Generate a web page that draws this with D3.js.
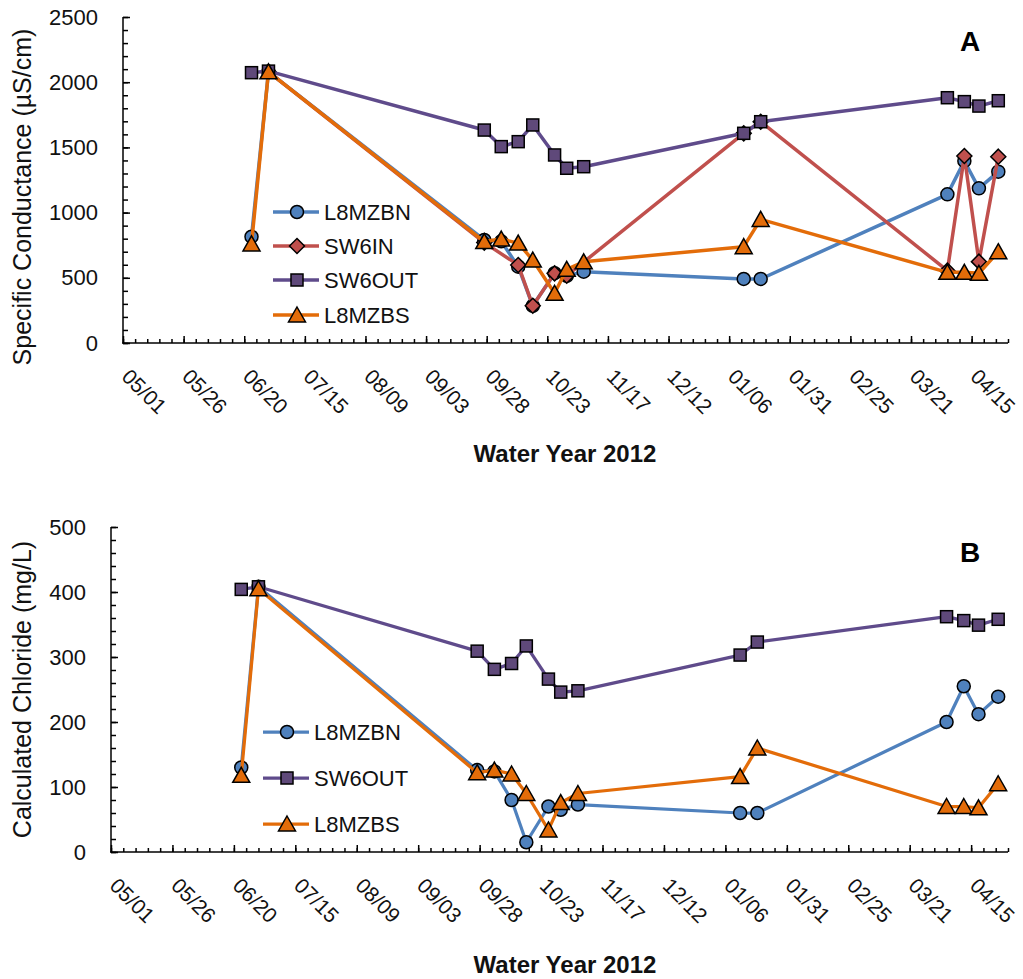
<!DOCTYPE html>
<html><head><meta charset="utf-8">
<script src="https://cdn.jsdelivr.net/npm/d3@7"></script>
<style>
body{margin:0;background:#fff;}
svg{display:block;font-family:"Liberation Sans",Arial,sans-serif;}
</style></head>
<body>
<svg id="chart" width="1023" height="979"></svg>
<script>
// ---------- DATA ----------
const dates = ["2011-06-23","2011-06-30","2011-09-27","2011-10-04","2011-10-11","2011-10-17","2011-10-26","2011-10-31","2011-11-07","2012-01-12","2012-01-19","2012-04-05","2012-04-12","2012-04-18","2012-04-26"];

// Panel A: Specific Conductance (µS/cm); null = no sample
const scL8MZBN = [815, 2080, 790, 780, 585, 285, 535, 515, 547, 491, 491, 1140, 1396, 1186, 1314];
const scSW6IN  = [null, 2080, 770, null, 598, 286, 534, 516, null, 1608, 1697, 555, 1434, 624, 1429];
const scSW6OUT = [2073, 2085, 1633, 1506, 1544, 1672, 1442, 1340, 1352, 1608, 1697, 1881, 1851, 1817, 1858];
const scL8MZBS = [760, 2080, 778, 797, 766, 636, 381, 565, 623, 739, 948, 542, 542, 534, 700];

// Panel B: Calculated Chloride (mg/L)
const clL8MZBN = [130, 408, 126, 124, 80, 15, 70, 65, 73, 60, 60, 200, 255, 212, 239];
const clSW6OUT = [404, 408, 309, 281, 290, 317, 266, 246, 248, 303, 323, 362, 356, 349, 358];
const clL8MZBS = [118, 405, 122, 126, 120, 90, 34, 76, 90, 116, 160, 70, 70, 68, 105];

const xStart = "2011-05-01", xEnd = "2012-04-30";
const xTickLabels = ["05/01","05/26","06/20","07/15","08/09","09/03","09/28","10/23","11/17","12/12","01/06","01/31","02/25","03/21","04/15"];
const yTicksA = [0, 500, 1000, 1500, 2000, 2500];
const yTicksB = [0, 100, 200, 300, 400, 500];

// ---------- STYLE ----------
const styles = {
  L8MZBN: {line:"#4F81BD", fill:"#4F81BD", shape:"circle"},
  SW6IN:  {line:"#C0504D", fill:"#C0504D", shape:"diamond"},
  SW6OUT: {line:"#5F4B8B", fill:"#5F497A", shape:"square"},
  L8MZBS: {line:"#E36C09", fill:"#E36C09", shape:"triangle"}
};

const parse = d3.utcParse("%Y-%m-%d");
const svg = d3.select("#chart");

function drawMarker(g, shape, cx, cy, fill) {
  if (shape === "circle") {
    g.append("circle").attr("cx", cx).attr("cy", cy).attr("r", 6.5)
      .attr("fill", fill).attr("stroke", "#000").attr("stroke-width", 1.5);
  } else if (shape === "square") {
    g.append("rect").attr("x", cx - 6).attr("y", cy - 6).attr("width", 12).attr("height", 12)
      .attr("fill", fill).attr("stroke", "#000").attr("stroke-width", 1.5);
  } else if (shape === "diamond") {
    g.append("path").attr("d", `M${cx},${cy-7.5}L${cx+7.5},${cy}L${cx},${cy+7.5}L${cx-7.5},${cy}Z`)
      .attr("fill", fill).attr("stroke", "#000").attr("stroke-width", 1.5);
  } else {
    g.append("path").attr("d", `M${cx},${cy-8}L${cx+8.5},${cy+7}L${cx-8.5},${cy+7}Z`)
      .attr("fill", fill).attr("stroke", "#000").attr("stroke-width", 1.5);
  }
}

function panel(cfg) {
  const x = d3.scaleUtc().domain([parse(xStart), parse(xEnd)]).range([cfg.x0, cfg.x1]);
  const y = d3.scaleLinear().domain([0, cfg.ymax]).range([cfg.yb, cfg.yt]);
  const g = svg.append("g");

  // y axis minor / major ticks
  const yMinor = d3.range(0, cfg.ymax + 1e-9, cfg.yminor);
  g.append("g").attr("transform", `translate(${cfg.x0},0)`)
    .call(d3.axisLeft(y).tickValues(yMinor).tickSize(-5).tickFormat(""))
    .call(a => a.select(".domain").remove())
    .call(a => a.selectAll("line").attr("stroke", "#000").attr("stroke-width", 1.5));
  const ya = g.append("g").attr("transform", `translate(${cfg.x0},0)`)
    .call(d3.axisLeft(y).tickValues(cfg.yticks).tickSize(-7).tickPadding(25).tickFormat(d3.format("d")));
  ya.select(".domain").remove();
  ya.selectAll("line").attr("stroke", "#000").attr("stroke-width", 1.5);
  ya.selectAll("text").attr("font-size", 22).attr("fill", "#111").attr("font-family", "Liberation Sans, Arial, sans-serif");

  // x axis
  const t0 = parse(xStart);
  const minor = d3.utcDay.every(1).range(t0, d3.utcDay.offset(parse(xEnd), 1)).filter((d, i) => i % 5 === 0);
  const major = xTickLabels.map((s, i) => d3.utcDay.offset(t0, i * 25));
  g.append("g").attr("transform", `translate(0,${cfg.yb})`)
    .call(d3.axisBottom(x).tickValues(minor).tickSize(-4).tickFormat(""))
    .call(a => a.select(".domain").remove())
    .call(a => a.selectAll("line").attr("stroke", "#000").attr("stroke-width", 1.5));
  const xa = g.append("g").attr("transform", `translate(0,${cfg.yb})`)
    .call(d3.axisBottom(x).tickValues(major).tickSize(-7).tickFormat((d, i) => xTickLabels[i]));
  xa.select(".domain").remove();
  xa.selectAll("line").attr("stroke", "#000").attr("stroke-width", 1.5);
  xa.selectAll("text")
    .attr("font-size", 21).attr("fill", "#111")
    .attr("text-anchor", "start").attr("dy", null).attr("y", null)
    .attr("transform", "translate(-3,35) rotate(45)");

  // axis lines
  g.append("line").attr("x1", cfg.x0).attr("x2", cfg.x0).attr("y1", cfg.yt).attr("y2", cfg.yb + 0.75)
    .attr("stroke", "#000").attr("stroke-width", 1.5);
  g.append("line").attr("x1", cfg.x0 - 0.75).attr("x2", cfg.x1).attr("y1", cfg.yb).attr("y2", cfg.yb)
    .attr("stroke", "#000").attr("stroke-width", 1.5);

  // series
  cfg.series.forEach(s => {
    const st = styles[s.name];
    const pts = dates.map((d, i) => ({d: parse(d), v: s.values[i]})).filter(p => p.v !== null);
    const line = d3.line().x(p => x(p.d)).y(p => y(p.v));
    g.append("path").attr("d", line(pts)).attr("fill", "none")
      .attr("stroke", st.line).attr("stroke-width", cfg.lw).attr("stroke-linejoin", "round");
    const mg = g.append("g");
    pts.forEach(p => drawMarker(mg, st.shape, x(p.d), y(p.v), st.fill));
  });

  // legend
  cfg.series.forEach((s, i) => {
    const st = styles[s.name];
    const ly = cfg.legY[i];
    g.append("line").attr("x1", cfg.legX).attr("x2", cfg.legX + 46).attr("y1", ly).attr("y2", ly)
      .attr("stroke", st.line).attr("stroke-width", cfg.lw);
    drawMarker(g, st.shape, cfg.legX + 24, ly, st.fill);
    g.append("text").attr("x", cfg.legX + 51).attr("y", ly).attr("dy", "0.35em")
      .attr("font-size", 22).attr("fill", "#111").text(s.name);
  });

  // titles
  g.append("text").attr("transform", `translate(${cfg.ytX},${(cfg.yt + cfg.yb) / 2 + cfg.ytOff}) rotate(-90)`)
    .attr("text-anchor", "middle").attr("font-size", 25).attr("fill", "#111").text(cfg.ytitle);
  g.append("text").attr("x", 565).attr("y", cfg.xtY).attr("text-anchor", "middle")
    .attr("font-size", 24).attr("font-weight", "bold").attr("fill", "#111").text("Water Year 2012");
  g.append("text").attr("x", 970).attr("y", cfg.lblY).attr("text-anchor", "middle")
    .attr("font-size", 28).attr("font-weight", "bold").attr("fill", "#000").text(cfg.label);
}

panel({
  x0: 123, x1: 1008, yt: 17, yb: 343, ymax: 2500, yminor: 100, yticks: yTicksA, lw: 3.5,
  series: [{name: "L8MZBN", values: scL8MZBN}, {name: "SW6IN", values: scSW6IN},
           {name: "SW6OUT", values: scSW6OUT}, {name: "L8MZBS", values: scL8MZBS}],
  legX: 273, legY: [212, 246, 280, 315],
  ytitle: "Specific Conductance (µS/cm)", ytX: 31, ytOff: 17,
  xtY: 462, label: "A", lblY: 51
});
panel({
  x0: 111, x1: 1008, yt: 527, yb: 852, ymax: 500, yminor: 20, yticks: yTicksB, lw: 3.25,
  series: [{name: "L8MZBN", values: clL8MZBN}, {name: "SW6OUT", values: clSW6OUT},
           {name: "L8MZBS", values: clL8MZBS}],
  legX: 263, legY: [732, 778, 824],
  ytitle: "Calculated Chloride (mg/L)", ytX: 31, ytOff: 0,
  xtY: 973, label: "B", lblY: 562
});
</script>
</body></html>
